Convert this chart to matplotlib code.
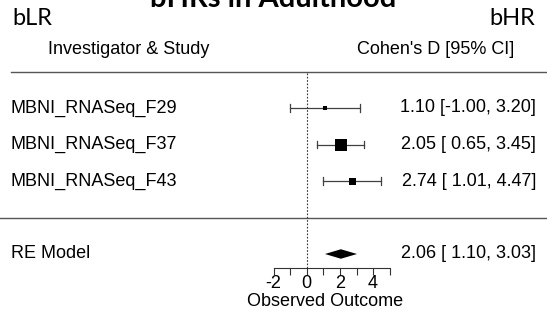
import numpy as np
import matplotlib.pyplot as plt

#   study data (Cohen's D with 95% CI)
studies = ["MBNI_RNASeq_F29", "MBNI_RNASeq_F37", "MBNI_RNASeq_F43"]
est = [1.10, 2.05, 2.74]
ci_lo = [-1.00, 0.65, 1.01]
ci_hi = [3.20, 3.45, 4.47]
sq_size = [4, 12, 7]  # marker sizes in px (weights)
rows = [5, 4, 3]

re_est, re_lo, re_hi = 2.06, 1.10, 3.03
re_row = 1

xticks = [-2, -1, 0, 1, 2, 3, 4, 5]
xticklabels = ["-2", "", "0", "", "2", "", "4", ""]

W, H = 547, 335
px_per_unit = 16.6
x0_px = 306.7
row_px = 36.5
row1_px = 254

fig = plt.figure(figsize=(W / 100, H / 100), dpi=100)
ax = fig.add_axes([0, 0, 1, 1])
ax.set_xlim(-x0_px / px_per_unit, (W - x0_px) / px_per_unit)
ax.set_ylim(re_row - (H - row1_px) / row_px, re_row + row1_px / row_px)

txt = dict(family="Liberation Sans", fontsize=13, color="black")
xl = ax.get_xlim()
left_x = xl[0] + 11 / px_per_unit
right_x = xl[1] - 11 / px_per_unit
axis_y = re_row - 14 / row_px

#   studies
for i in range(len(studies)):
    y = rows[i]
    ax.plot([ci_lo[i], ci_hi[i]], [y, y], color="#404040", lw=0.9)
    for e in (ci_lo[i], ci_hi[i]):
        ax.plot([e, e], [y - 0.1, y + 0.1], color="#404040", lw=0.9)
    ax.plot(est[i], y, marker="s", color="black", ms=sq_size[i] * 0.72, mew=0)
    ax.text(left_x, y, studies[i], ha="left", va="center", **txt)
    ax.text(right_x, y, "%.2f [%5.2f, %.2f]" % (est[i], ci_lo[i], ci_hi[i]),
            ha="right", va="center", **txt)

#   RE model diamond
ax.fill([re_lo, re_est, re_hi, re_est], [re_row, re_row + 0.13, re_row, re_row - 0.13],
        color="black", lw=0)
ax.text(left_x, re_row, "RE Model", ha="left", va="center", **txt)
ax.text(right_x, re_row, "%.2f [%5.2f, %.2f]" % (re_est, re_lo, re_hi),
        ha="right", va="center", **txt)

#   lines
ax.axhline(6, xmin=11 / W, color="#555555", lw=1)
ax.axhline(2, xmin=0, color="#555555", lw=1)
ax.plot([0, 0], [axis_y, 6], color="#333333", lw=0.8, ls=(0, (1.5, 1.5)))

#   headers
ax.text(left_x + 37 / px_per_unit, 6.6, "Investigator & Study", ha="left", va="center", **txt)
ax.text(right_x - 22 / px_per_unit, 6.6, "Cohen's D [95% CI]", ha="right", va="center", **txt)

#   bottom axis
for s in ["top", "left", "right"]:
    ax.spines[s].set_visible(False)
ax.spines["bottom"].set_position(("data", axis_y))
ax.spines["bottom"].set_bounds(-2, 5)
ax.spines["bottom"].set_color("#333333")
ax.spines["bottom"].set_linewidth(0.8)
ax.set_xticks(xticks)
ax.set_xticklabels(xticklabels, family="Liberation Sans", fontsize=13)
ax.tick_params(axis="x", direction="out", length=5, width=0.8, color="#333333", pad=0)
ax.set_yticks([])
ax.text(1.1, axis_y - 33 / row_px, "Observed Outcome", ha="center", va="center", **txt)

#   top labels
fig.text(12 / W, 1 - 25 / H, "bLR", family="Lato", fontsize=17, va="baseline", ha="left")
fig.text(535 / W, 1 - 25 / H, "bHR", family="Lato", fontsize=17, va="baseline", ha="right")
fig.text(273 / W, 1 - 7 / H, "bHRs in Adulthood", family="Lato", fontsize=21,
         fontweight="bold", va="baseline", ha="center")

fig.savefig("out.png", dpi=100)
